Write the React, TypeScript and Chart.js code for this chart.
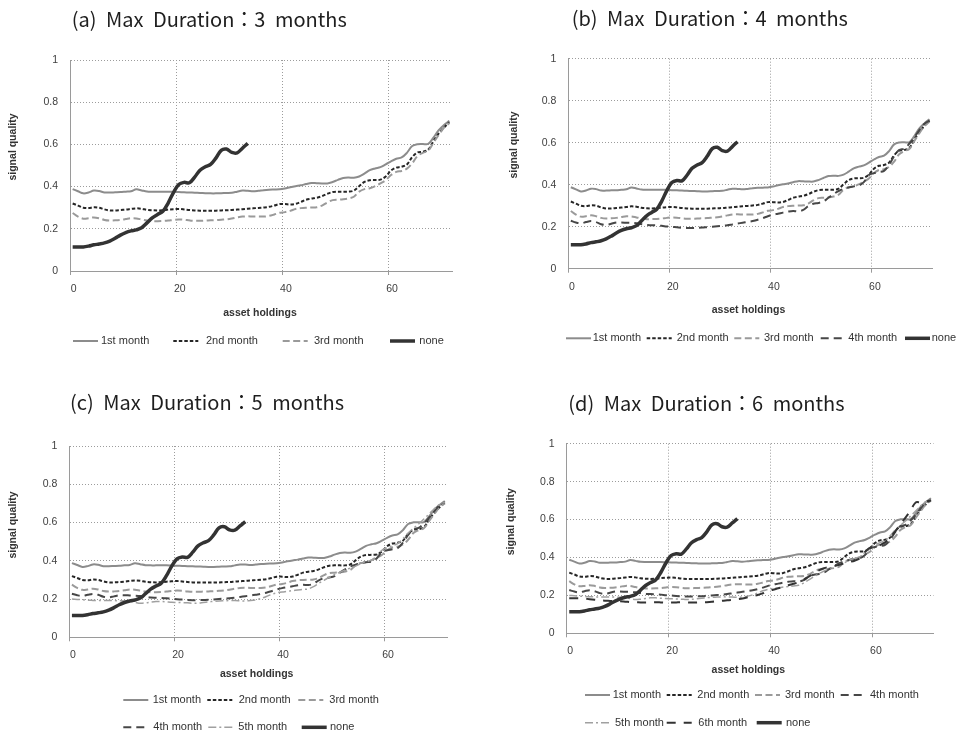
import React, { useEffect, useRef } from 'react';
import { Chart, registerables } from 'chart.js';

Chart.register(...registerables);

// ---------------- DATA ----------------
const HOLDINGS = [
  0, 1, 2, 3, 4, 5, 6, 7, 8, 9, 10, 11, 12, 13, 14, 15, 16, 17, 18, 19,
  20, 21, 22, 23, 24, 25, 26, 27, 28, 29, 30, 31, 32, 33, 34, 35, 36, 37, 38, 39,
  40, 41, 42, 43, 44, 45, 46, 47, 48, 49, 50, 51, 52, 53, 54, 55, 56, 57, 58, 59,
  60, 61, 62, 63, 64, 65, 66, 67, 68, 69, 70, 71,
];
const X_TICK_LABELS = [0, 20, 40, 60];
const Y_TICKS = [0, 0.2, 0.4, 0.6, 0.8, 1];

const MONTH1 = [
  0.388, 0.378, 0.368, 0.372, 0.381, 0.379, 0.372, 0.372, 0.373, 0.374,
  0.376, 0.378, 0.387, 0.382, 0.377, 0.376, 0.376, 0.376, 0.376, 0.375,
  0.374, 0.373, 0.372, 0.371, 0.370, 0.369, 0.368, 0.368, 0.369, 0.370,
  0.371, 0.376, 0.381, 0.380, 0.378, 0.380, 0.383, 0.385, 0.386, 0.387,
  0.391, 0.397, 0.402, 0.406, 0.412, 0.417, 0.416, 0.415, 0.415, 0.422,
  0.432, 0.441, 0.443, 0.442, 0.448, 0.462, 0.478, 0.486, 0.492, 0.505,
  0.520, 0.532, 0.538, 0.560, 0.592, 0.601, 0.602, 0.602, 0.632, 0.668,
  0.692, 0.712,
];
const MONTH2 = [
  0.320, 0.310, 0.300, 0.298, 0.302, 0.300, 0.292, 0.287, 0.287, 0.289,
  0.291, 0.294, 0.297, 0.295, 0.290, 0.288, 0.287, 0.288, 0.291, 0.293,
  0.294, 0.292, 0.289, 0.287, 0.286, 0.286, 0.286, 0.286, 0.287, 0.288,
  0.289, 0.291, 0.293, 0.295, 0.297, 0.299, 0.301, 0.304, 0.310, 0.317,
  0.317, 0.315, 0.318, 0.327, 0.338, 0.343, 0.347, 0.355, 0.366, 0.374,
  0.376, 0.376, 0.376, 0.381, 0.402, 0.422, 0.430, 0.431, 0.433, 0.448,
  0.476, 0.490, 0.494, 0.505, 0.540, 0.562, 0.565, 0.575, 0.615, 0.652,
  0.680, 0.705,
];
const MONTH3 = [
  0.275, 0.258, 0.248, 0.250, 0.254, 0.250, 0.242, 0.239, 0.240, 0.242,
  0.246, 0.250, 0.249, 0.244, 0.239, 0.236, 0.236, 0.237, 0.239, 0.242,
  0.244, 0.243, 0.240, 0.238, 0.238, 0.239, 0.240, 0.241, 0.243, 0.245,
  0.249, 0.254, 0.258, 0.259, 0.258, 0.258, 0.258, 0.261, 0.268, 0.276,
  0.279, 0.285, 0.294, 0.298, 0.300, 0.301, 0.302, 0.310, 0.325, 0.336,
  0.338, 0.340, 0.344, 0.352, 0.376, 0.388, 0.392, 0.402, 0.415, 0.430,
  0.455, 0.470, 0.474, 0.485, 0.510, 0.545, 0.560, 0.570, 0.608, 0.645,
  0.680, 0.700,
];
const MONTH4 = [
  0.228, 0.220, 0.216, 0.222, 0.227, 0.222, 0.212, 0.208, 0.214, 0.220,
  0.220, 0.219, 0.218, 0.216, 0.212, 0.208, 0.207, 0.206, 0.204, 0.201,
  0.199, 0.197, 0.195, 0.194, 0.194, 0.195, 0.196, 0.198, 0.200, 0.202,
  0.204, 0.207, 0.211, 0.215, 0.219, 0.223, 0.227, 0.233, 0.241, 0.250,
  0.257, 0.262, 0.267, 0.272, 0.275, 0.273, 0.280, 0.298, 0.309, 0.313,
  0.320, 0.338, 0.355, 0.370, 0.380, 0.387, 0.392, 0.396, 0.412, 0.446,
  0.455, 0.460, 0.466, 0.495, 0.535, 0.565, 0.572, 0.595, 0.625, 0.660,
  0.690, 0.705,
];
const MONTH5 = [
  0.200, 0.198, 0.196, 0.194, 0.193, 0.192, 0.192, 0.192, 0.192, 0.191,
  0.190, 0.188, 0.183, 0.178, 0.180, 0.184, 0.187, 0.187, 0.185, 0.183,
  0.182, 0.181, 0.180, 0.178, 0.179, 0.182, 0.185, 0.188, 0.190, 0.191,
  0.192, 0.192, 0.191, 0.190, 0.192, 0.196, 0.203, 0.213, 0.224, 0.232,
  0.237, 0.240, 0.244, 0.247, 0.250, 0.253, 0.265, 0.282, 0.298, 0.314,
  0.328, 0.340, 0.352, 0.362, 0.372, 0.385, 0.395, 0.403, 0.425, 0.455,
  0.468, 0.478, 0.490, 0.515, 0.545, 0.570, 0.592, 0.618, 0.645, 0.672,
  0.695, 0.705,
];
const MONTH6 = [
  0.185, 0.185, 0.185, 0.183, 0.180, 0.177, 0.174, 0.172, 0.171, 0.170,
  0.169, 0.167, 0.165, 0.164, 0.163, 0.162, 0.163, 0.164, 0.163, 0.162,
  0.162, 0.163, 0.164, 0.163, 0.162, 0.162, 0.163, 0.164, 0.166, 0.169,
  0.172, 0.174, 0.176, 0.180, 0.184, 0.190, 0.196, 0.202, 0.211, 0.221,
  0.230, 0.237, 0.245, 0.253, 0.261, 0.270, 0.283, 0.299, 0.315, 0.332,
  0.343, 0.350, 0.355, 0.362, 0.369, 0.376, 0.383, 0.395, 0.428, 0.450,
  0.456, 0.465, 0.480, 0.505, 0.538, 0.575, 0.610, 0.648, 0.690, 0.690,
  0.695, 0.700,
];
const NONE = [
  0.114, 0.114, 0.114, 0.118, 0.124, 0.128, 0.133, 0.142, 0.155, 0.170,
  0.182, 0.190, 0.195, 0.205, 0.228, 0.252, 0.268, 0.283, 0.322, 0.372,
  0.410, 0.420, 0.418, 0.445, 0.478, 0.494, 0.505, 0.535, 0.572, 0.578,
  0.562, 0.560, 0.582, 0.605,
];

const SERIES: Record<string, number[]> = {
  '1st month': MONTH1,
  '2nd month': MONTH2,
  '3rd month': MONTH3,
  '4th month': MONTH4,
  '5th month': MONTH5,
  '6th month': MONTH6,
  none: NONE,
};

// ---------------- STYLES ----------------
const STYLES: Record<string, { color: string; width: number; dash: number[]; order: number }> = {
  '1st month': { color: '#8c8c8c', width: 2, dash: [], order: 7 },
  '2nd month': { color: '#262626', width: 2, dash: [3.5, 2], order: 6 },
  '3rd month': { color: '#9a9a9a', width: 2, dash: [7, 3.5], order: 5 },
  '4th month': { color: '#474747', width: 2, dash: [8, 5], order: 4 },
  '5th month': { color: '#a0a0a0', width: 1.5, dash: [8, 3, 2, 3], order: 3 },
  '6th month': { color: '#333333', width: 2, dash: [9, 8], order: 2 },
  none: { color: '#333333', width: 3.5, dash: [], order: 0 },
};

const SANS = "'Liberation Sans', Arial, sans-serif";
const TITLE_FONT = "400 20px 'Noto Sans CJK KR', 'Noto Sans', sans-serif";

type LegendItem = { key: string; x: number; tx: number };
type Panel = {
  title: string;
  left: number;
  top: number;
  width: number;
  height: number;
  area: { l: number; t: number; r: number; b: number };
  series: string[];
  titlePos: [number, number];
  yTitle: [number, number];
  xTitle: [number, number];
  legend: { y: number; items: LegendItem[] }[];
};

const PANELS: Panel[] = [
  {
    title: '(a) Max Duration：3 months',
    left: 0, top: 0, width: 480, height: 367,
    area: { l: 70, t: 60, r: 452, b: 271 },
    series: ['1st month', '2nd month', '3rd month', 'none'],
    titlePos: [71.7, 19.5],
    yTitle: [13.3, 147],
    xTitle: [260, 313],
    legend: [
      { y: 341, items: [
        { key: '1st month', x: 73, tx: 101 },
        { key: '2nd month', x: 173.3, tx: 206 },
        { key: '3rd month', x: 282.7, tx: 314 },
        { key: 'none', x: 390, tx: 419.3 },
      ] },
    ],
  },
  {
    title: '(b) Max Duration：4 months',
    left: 480, top: 0, width: 479, height: 367,
    area: { l: 88.3, t: 58.7, r: 452, b: 268.7 },
    series: ['1st month', '2nd month', '3rd month', '4th month', 'none'],
    titlePos: [91.7, 18.8],
    yTitle: [34, 145],
    xTitle: [268.5, 310],
    legend: [
      { y: 338.3, items: [
        { key: '1st month', x: 86, tx: 112.7 },
        { key: '2nd month', x: 166.7, tx: 196.7 },
        { key: '3rd month', x: 254.3, tx: 284 },
        { key: '4th month', x: 340.7, tx: 368.3 },
        { key: 'none', x: 425, tx: 451.7 },
      ] },
    ],
  },
  {
    title: '(c) Max Duration：5 months',
    left: 0, top: 367, width: 480, height: 367,
    area: { l: 69.3, t: 79, r: 447.5, b: 270.3 },
    series: ['1st month', '2nd month', '3rd month', '4th month', '5th month', 'none'],
    titlePos: [70, 35.5],
    yTitle: [13, 158],
    xTitle: [256.7, 307.3],
    legend: [
      { y: 333, items: [
        { key: '1st month', x: 123.3, tx: 152.7 },
        { key: '2nd month', x: 207.3, tx: 238.7 },
        { key: '3rd month', x: 298.3, tx: 329.3 },
      ] },
      { y: 360.3, items: [
        { key: '4th month', x: 123.3, tx: 153.3 },
        { key: '5th month', x: 208.3, tx: 238.3 },
        { key: 'none', x: 301.7, tx: 330 },
      ] },
    ],
  },
  {
    title: '(d) Max Duration：6 months',
    left: 480, top: 367, width: 479, height: 367,
    area: { l: 86.7, t: 76.7, r: 453.5, b: 266.3 },
    series: ['1st month', '2nd month', '3rd month', '4th month', '5th month', '6th month', 'none'],
    titlePos: [88.3, 36],
    yTitle: [31.3, 154.7],
    xTitle: [268.3, 303],
    legend: [
      { y: 328, items: [
        { key: '1st month', x: 105, tx: 132.7 },
        { key: '2nd month', x: 186.7, tx: 217.3 },
        { key: '3rd month', x: 275, tx: 305 },
        { key: '4th month', x: 360.7, tx: 390 },
      ] },
      { y: 355.7, items: [
        { key: '5th month', x: 105, tx: 135 },
        { key: '6th month', x: 186.7, tx: 218.3 },
        { key: 'none', x: 276.7, tx: 306 },
      ] },
    ],
  },
];

const LEGEND_LINE = 25;

function decorPlugin(p: Panel) {
  return {
    id: 'decor',
    afterDraw(chart: any) {
      const ctx: CanvasRenderingContext2D = chart.ctx;
      ctx.save();
      // title
      ctx.font = TITLE_FONT;
      ctx.fillStyle = '#1e1e1e';
      ctx.textAlign = 'left';
      ctx.textBaseline = 'middle';
      (ctx as any).wordSpacing = '5px';
      ctx.fillText(p.title, p.titlePos[0], p.titlePos[1]);
      (ctx as any).wordSpacing = '0px';
      // axis titles
      ctx.font = `bold 10.5px ${SANS}`;
      ctx.fillStyle = '#333333';
      ctx.textAlign = 'center';
      ctx.fillText('asset holdings', p.xTitle[0], p.xTitle[1]);
      ctx.save();
      ctx.translate(p.yTitle[0], p.yTitle[1]);
      ctx.rotate(-Math.PI / 2);
      ctx.fillText('signal quality', 0, 0);
      ctx.restore();
      // legend
      ctx.font = `11px ${SANS}`;
      ctx.textAlign = 'left';
      for (const row of p.legend) {
        for (const it of row.items) {
          const st = STYLES[it.key];
          const end = Math.min(it.x + LEGEND_LINE, it.tx - 1);
          ctx.strokeStyle = st.color;
          ctx.lineWidth = st.width;
          ctx.setLineDash(st.dash);
          ctx.beginPath();
          ctx.moveTo(it.x, row.y);
          ctx.lineTo(end, row.y);
          ctx.stroke();
          ctx.setLineDash([]);
          ctx.fillStyle = '#333333';
          ctx.fillText(it.key, it.tx, row.y);
        }
      }
      ctx.restore();
    },
  };
}

const YW = 40;
const XH = 30;

function makeChart(canvas: HTMLCanvasElement, p: Panel) {
  const datasets = p.series.map((key) => {
    const st = STYLES[key];
    return {
      label: key,
      data: SERIES[key],
      borderColor: st.color,
      backgroundColor: st.color,
      borderWidth: st.width,
      borderDash: st.dash,
      order: st.order,
      pointRadius: 0,
      pointHoverRadius: 0,
      fill: false,
      tension: 0.35,
    };
  });
  const isMajor = (i: number) => i < HOLDINGS.length && X_TICK_LABELS.includes(HOLDINGS[i]);
  return new Chart(canvas, {
    type: 'line',
    data: { labels: HOLDINGS.map(String), datasets },
    options: {
      animation: false,
      responsive: false,
      events: [],
      layout: {
        padding: {
          left: p.area.l - YW,
          top: p.area.t,
          right: p.width - p.area.r,
          bottom: p.height - p.area.b - XH,
        },
      },
      plugins: {
        legend: { display: false },
        tooltip: { enabled: false },
        title: { display: false },
      },
      scales: {
        x: {
          type: 'category',
          offset: true,
          grid: {
            offset: true,
            color: (c: any) => (isMajor(c.index) ? '#9c9c9c' : 'rgba(0,0,0,0)'),
            tickColor: (c: any) => (isMajor(c.index) ? '#9a9a9a' : 'rgba(0,0,0,0)'),
            tickLength: 4,
            drawTicks: true,
            lineWidth: 1,
          },
          border: { display: true, color: '#9a9a9a', width: 1, dash: [1, 2] },
          ticks: {
            autoSkip: false,
            maxRotation: 0,
            minRotation: 0,
            padding: 8,
            labelOffset: 1,
            color: '#404040',
            font: { family: SANS, size: 10.5 },
            callback: (_v: any, i: number) => (isMajor(i) ? String(HOLDINGS[i]) : ''),
          },
          afterFit: (s: any) => { s.height = XH; },
        },
        y: {
          type: 'linear',
          min: Y_TICKS[0],
          max: Y_TICKS[Y_TICKS.length - 1],
          afterBuildTicks: (s: any) => { s.ticks = Y_TICKS.map((v) => ({ value: v })); },
          grid: { color: '#9c9c9c', drawTicks: false, lineWidth: 1 },
          border: { display: true, color: '#9a9a9a', width: 1, dash: [1, 2] },
          ticks: {
            padding: 12,
            color: '#404040',
            font: { family: SANS, size: 10.5 },
            callback: (v: any) => String(v),
          },
          afterFit: (s: any) => { s.width = YW; },
        },
      },
    } as any,
    plugins: [decorPlugin(p)],
  });
}

export default function App() {
  const refs = useRef<(HTMLCanvasElement | null)[]>([]);
  useEffect(() => {
    const charts = PANELS.map((p, i) => makeChart(refs.current[i] as HTMLCanvasElement, p));
    return () => charts.forEach((c) => c.destroy());
  }, []);
  return (
    <div style={{ position: 'absolute', left: 0, top: 0, width: 959, height: 734, background: '#ffffff', overflow: 'hidden' }}>
      {PANELS.map((p, i) => (
        <canvas
          key={i}
          ref={(el) => { refs.current[i] = el; }}
          width={p.width}
          height={p.height}
          style={{ position: 'absolute', left: p.left, top: p.top, width: p.width, height: p.height }}
        />
      ))}
    </div>
  );
}
